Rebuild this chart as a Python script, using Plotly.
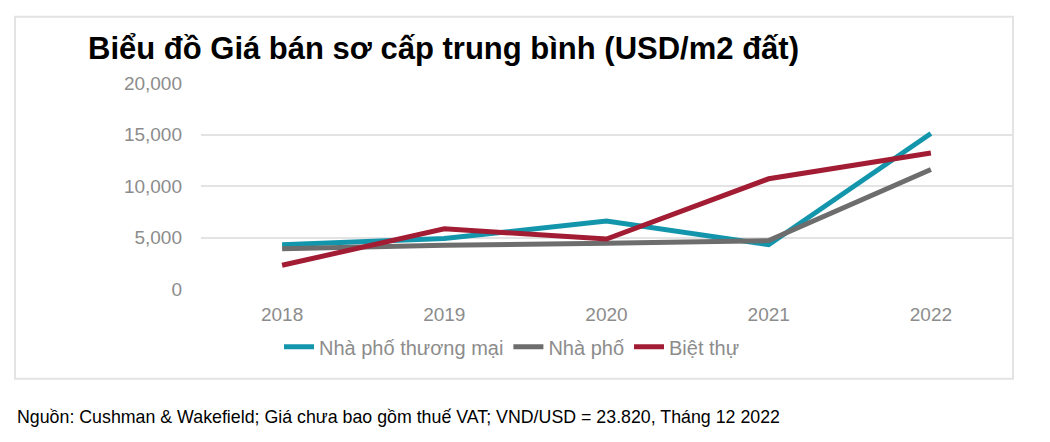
import plotly.graph_objects as go

years = ["2018", "2019", "2020", "2021", "2022"]
nha_pho_thuong_mai = [4300, 4900, 6600, 4300, 15100]
nha_pho = [3900, 4250, 4450, 4700, 11600]
biet_thu = [2300, 5850, 4850, 10700, 13200]

series_names = ["Nhà phố thương mại", "Nhà phố", "Biệt thự"]
series_values = [nha_pho_thuong_mai, nha_pho, biet_thu]
series_colors = ["#1396AB", "#6D6D6D", "#A21C33"]

y_ticks = [0, 5000, 10000, 15000, 20000]

title_text = "Biểu đồ Giá bán sơ cấp trung bình (USD/m2 đất)"
footer_text = "Nguồn: Cushman & Wakefield; Giá chưa bao gồm thuế VAT; VND/USD = 23.820, Tháng 12 2022"

FONT = "Liberation Sans, Arial, sans-serif"
W, H = 1050, 442
L, R, T, B = 201, 1012, 82.5, 289  # plot area in px

def px_x(px):
    return (px - L) / (R - L)

def px_y(py):
    return (B - py) / (B - T)

fig = go.Figure()
for name, vals, col in zip(series_names, series_values, series_colors):
    fig.add_trace(go.Scatter(
        x=years, y=vals, name=name, mode="lines",
        line=dict(color=col, width=5),
    ))

fig.update_layout(
    width=W, height=H, autosize=False,
    margin=dict(l=L, r=W - R, t=T, b=H - B, pad=0),
    paper_bgcolor="white", plot_bgcolor="white",
    font=dict(family=FONT, color="#8C8C8C", size=19),
    showlegend=True,
    legend=dict(
        orientation="h", x=px_x(512), xanchor="center",
        y=px_y(347), yanchor="middle",
        font=dict(size=20, color="#8C8C8C"),
        itemwidth=30, tracegroupgap=0,
        bgcolor="rgba(0,0,0,0)",
    ),
    title=dict(
        text=title_text, x=88 / W, xanchor="left",
        y=1 - 48 / H, yanchor="middle",
        font=dict(family=FONT, size=31, color="black", weight="bold"),
    ),
    xaxis=dict(
        type="category", range=[-0.5, 4.5],
        showgrid=False, zeroline=False, showline=False,
        ticks="", ticklabelstandoff=12,
        tickfont=dict(size=19, color="#8C8C8C"),
    ),
    yaxis=dict(
        range=[0, 20000], tickvals=y_ticks, tickformat=",",
        showgrid=True, gridcolor="#E3E3E3", gridwidth=1.6,
        zeroline=False, showline=False, ticks="",
        ticklabelstandoff=18,
        tickfont=dict(size=19, color="#8C8C8C"),
    ),
)

# outer border box
fig.add_shape(
    type="rect", xref="paper", yref="paper",
    x0=px_x(15), x1=px_x(1013), y0=px_y(379), y1=px_y(16),
    line=dict(color="#E3E3E3", width=2), fillcolor="rgba(0,0,0,0)", layer="below",
)

fig.add_annotation(
    text=footer_text, xref="paper", yref="paper",
    x=px_x(15), xanchor="left", y=px_y(417), yanchor="middle",
    showarrow=False, font=dict(family=FONT, size=17.8, color="black"),
)

fig.write_html(
    "out.html",
    config={"displayModeBar": False},
    post_script="document.body.style.margin='0';",
)
